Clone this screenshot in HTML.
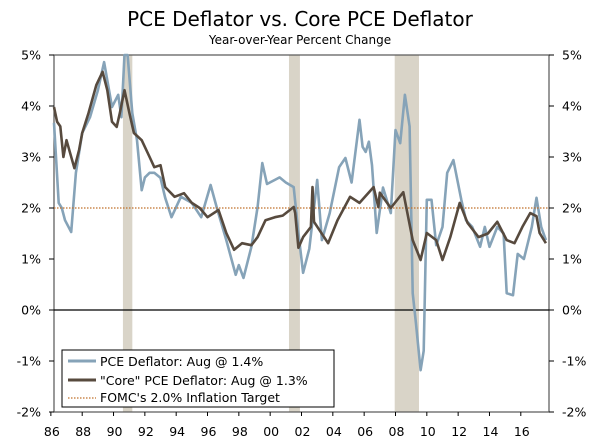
<!DOCTYPE html>
<html><head><meta charset="utf-8"><style>
body{margin:0;background:#fff;}
svg{display:block;font-family:"DejaVu Sans","Liberation Sans",sans-serif;}
</style></head><body>
<svg id="c" width="600" height="447" viewBox="0 0 600 447">
<text x="300" y="26" text-anchor="middle" font-size="20" fill="#000">PCE Deflator vs. Core PCE Deflator</text>
<text x="300" y="44" text-anchor="middle" font-size="12" fill="#000">Year-over-Year Percent Change</text>
<g id="rec"></g>
<g id="grid"></g>
<g id="series"></g>
<g>
<rect x="62" y="350" width="272" height="57" fill="#fff" stroke="#000" stroke-width="1"/>
<line x1="68" y1="361" x2="96" y2="361" stroke="#86a3b8" stroke-width="3"/>
<text x="100" y="366" font-size="12.5">PCE Deflator: Aug @ 1.4%</text>
<line x1="68" y1="380" x2="96" y2="380" stroke="#574a3e" stroke-width="3"/>
<text x="100" y="385" font-size="12.5">"Core" PCE Deflator: Aug @ 1.3%</text>
<line x1="68" y1="398" x2="96" y2="398" stroke="#c0702a" stroke-width="1.2" stroke-dasharray="1.5,1.5"/>
<text x="100" y="402" font-size="12.5">FOMC's 2.0% Inflation Target</text>
</g>
</svg>
<script>
const recStart=[1990.6,2001.2,2007.95];
const recEnd=[1991.2,2001.9,2009.5];
const yTicks=[-2,-1,0,1,2,3,4,5];
const xTickYears=[1986,1988,1990,1992,1994,1996,1998,2000,2002,2004,2006,2008,2010,2012,2014,2016];
const xTickLabels=["86","88","90","92","94","96","98","00","02","04","06","08","10","12","14","16"];
const target=2.0;
const coreYears=[1986.2,1986.4,1986.6,1986.8,1987.0,1987.5,1987.8,1988.0,1988.4,1988.9,1989.3,1989.6,1989.9,1990.2,1990.4,1990.7,1991.0,1991.3,1991.8,1992.3,1992.6,1993.0,1993.3,1993.9,1994.5,1995.0,1995.5,1996.0,1996.7,1997.2,1997.7,1998.2,1998.8,1999.2,1999.7,2000.3,2000.8,2001.5,2001.6,2001.8,2002.1,2002.6,2002.7,2002.8,2003.7,2004.3,2005.1,2005.7,2006.6,2006.9,2007.0,2007.7,2008.5,2009.1,2009.6,2010.0,2010.6,2011.0,2011.5,2012.1,2012.6,2013.3,2013.9,2014.5,2015.1,2015.6,2016.1,2016.6,2017.0,2017.2,2017.6];
const coreVals=[3.98,3.69,3.6,3.0,3.33,2.78,3.14,3.47,3.86,4.41,4.67,4.31,3.69,3.59,3.86,4.31,3.88,3.47,3.33,3.0,2.8,2.84,2.41,2.22,2.29,2.1,2.0,1.82,1.96,1.51,1.18,1.31,1.27,1.43,1.76,1.82,1.85,2.02,1.9,1.22,1.43,1.63,2.41,1.73,1.31,1.76,2.22,2.1,2.41,2.02,2.3,2.0,2.31,1.37,0.98,1.51,1.37,0.98,1.43,2.1,1.71,1.43,1.5,1.73,1.37,1.31,1.63,1.9,1.84,1.51,1.31];
const pceYears=[1986.2,1986.5,1986.7,1986.9,1987.3,1987.6,1988.0,1988.5,1989.0,1989.4,1989.9,1990.3,1990.5,1990.7,1990.9,1991.2,1991.5,1991.8,1992.0,1992.3,1992.6,1993.0,1993.3,1993.7,1994.3,1995.0,1995.6,1996.2,1996.6,1997.2,1997.8,1998.0,1998.3,1998.8,1999.2,1999.5,1999.8,2000.3,2000.6,2001.0,2001.5,2001.8,2002.1,2002.5,2003.0,2003.3,2003.8,2004.4,2004.8,2005.2,2005.7,2005.9,2006.1,2006.3,2006.5,2006.8,2007.2,2007.7,2008.0,2008.3,2008.6,2008.9,2009.1,2009.3,2009.6,2009.8,2010.0,2010.3,2010.6,2011.0,2011.3,2011.7,2012.2,2012.5,2012.9,2013.4,2013.7,2014.0,2014.5,2014.9,2015.1,2015.5,2015.8,2016.2,2016.7,2017.0,2017.3,2017.6];
const pceVals=[3.67,2.1,2.0,1.76,1.53,2.69,3.47,3.78,4.31,4.86,3.98,4.22,3.78,5.0,5.0,3.86,3.33,2.35,2.6,2.69,2.69,2.59,2.2,1.82,2.22,2.1,1.82,2.45,2.0,1.37,0.69,0.88,0.63,1.24,2.02,2.88,2.47,2.55,2.6,2.5,2.41,1.51,0.73,1.2,2.55,1.37,1.9,2.8,2.98,2.5,3.73,3.2,3.1,3.3,2.84,1.51,2.4,1.9,3.53,3.27,4.22,3.6,0.33,-0.25,-1.18,-0.8,2.16,2.16,1.27,1.63,2.69,2.94,2.16,1.76,1.63,1.24,1.63,1.24,1.63,1.5,0.33,0.29,1.1,1.0,1.63,2.2,1.63,1.37];
const NS="http://www.w3.org/2000/svg";
const L=54,R=549,T=55,B=412,X0=1986.2,X1=2017.8,Y0=-2,Y1=5;
function xs(t){return L+(t-X0)/(X1-X0)*(R-L);}
function ys(v){return B-(v-Y0)/(Y1-Y0)*(B-T);}
function mk(tag,attrs,parent){const e=document.createElementNS(NS,tag);for(const k in attrs)e.setAttribute(k,attrs[k]);parent.appendChild(e);return e;}
const rec=document.getElementById('rec');
recStart.forEach((s,i)=>{
 const r=mk('rect',{x:xs(s),y:T,width:xs(recEnd[i])-xs(s),height:B-T,fill:'#d9d4c8'},rec);
 
 
});
const g=document.getElementById('grid');
mk('rect',{x:L,y:T,width:R-L,height:B-T,fill:'none',stroke:'#555','stroke-width':1.2},g);
const z=mk('line',{x1:L,x2:R,y1:ys(0),y2:ys(0),stroke:'#000','stroke-width':1.2},g);


yTicks.forEach(v=>{
 const y=ys(v);
 mk('line',{x1:L-5,x2:L,y1:y,y2:y,stroke:'#000'},g);
 mk('line',{x1:R,x2:R+5,y1:y,y2:y,stroke:'#000'},g);
 const a=mk('text',{x:L-13,y:y+4.5,'text-anchor':'end','font-size':12.5},g);a.textContent=v+'%';
 
 
 const b=mk('text',{x:R+13,y:y+4.5,'font-size':12.5},g);b.textContent=v+'%';
 
 
});
xTickYears.forEach((t,i)=>{
 const x=xs(t);
 mk('line',{x1:x,x2:x,y1:B,y2:B+4,stroke:'#000'},g);
 const a=mk('text',{x:x+1,y:436,'text-anchor':'middle','font-size':12.5},g);a.textContent=xTickLabels[i];
 
 
});
const s=document.getElementById('series');
function line(xa,va,color,w,name){
 const d=xa.map((t,i)=>(i?'L':'M')+xs(t).toFixed(1)+','+Math.max(T,ys(va[i])).toFixed(1)).join('');
 const p=mk('path',{d:d,fill:'none',stroke:color,'stroke-width':w,'stroke-linejoin':'round'},s);
 
 
}
line(pceYears,pceVals,'#86a3b8',2.6,'pce-deflator-line');
const tl=mk('line',{x1:L,x2:R,y1:ys(target),y2:ys(target),stroke:'#c0702a','stroke-width':1.2,'stroke-dasharray':'1.5,1.5'},s);


line(coreYears,coreVals,'#574a3e',2.6,'core-pce-line');
</script>
</body></html>
